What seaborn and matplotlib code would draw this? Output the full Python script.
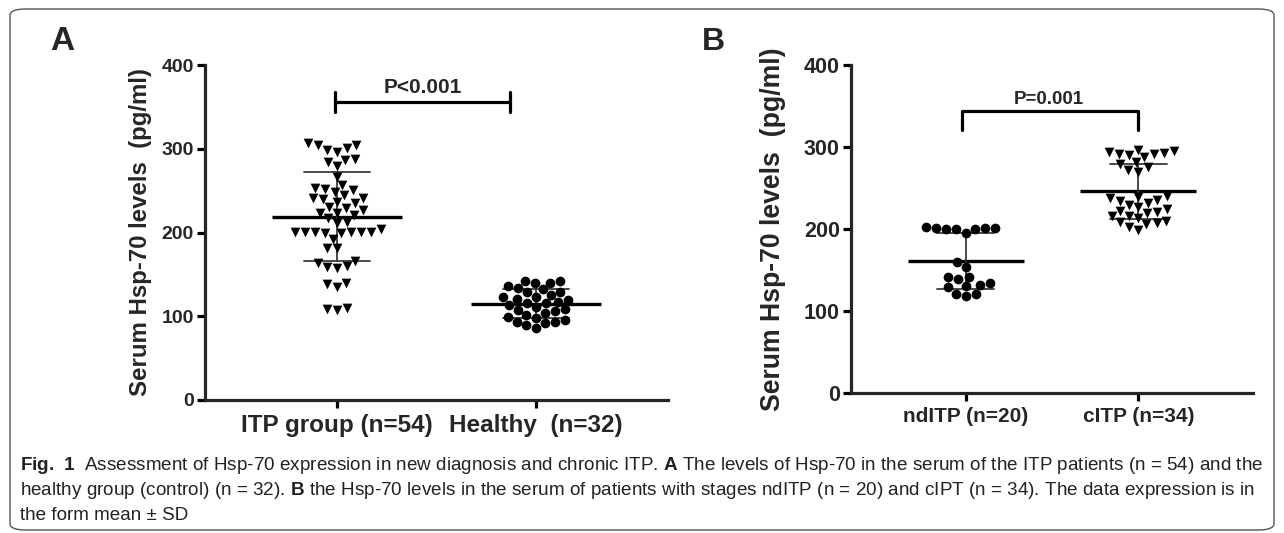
import matplotlib
matplotlib.use("Agg")
import matplotlib.pyplot as plt
import pandas as pd
import seaborn as sns
from matplotlib import font_manager
from matplotlib.patches import FancyBboxPatch

# values (pg/ml)
itp_group = [201,
             211, 199,
             304.5, 248.8, 239.6, 223, 201, 160,
             299, 287.3, 244.8, 234.9, 223.7, 201, 164, 138, 107.5,
             306.5, 296.5, 279.4, 266.7, 251.6, 240.8, 228.9, 217, 199, 181.1, 157.2, 135.3, 109.5,
             300.5, 284.6, 250.7, 240.8, 230, 221, 201, 191.8, 181.1, 159.2, 140.1, 108.7,
             304.5, 286.6, 256.7, 252.7, 236.8, 226.9, 201, 166.3,
             203.7,
             213, 201]
healthy = [128.6, 116.2,
           142.5, 129.3, 120.2, 108.3, 99.5, 89.6,
           140.1, 132.1, 123.4, 113.4, 103.5, 93.5,
           142.5, 133.3, 117.4, 107.5, 91.6,
           136.1, 122.6, 111.4, 101.5, 93.5,
           139.3, 119.4, 106.6, 97.5, 85.6,
           125.4, 115.4, 95.5]
nditp = [201, 201, 200, 195, 200, 202, 200, 201,
         160.3, 154.2, 138.8, 142, 142,
         129, 134.7, 131, 131.8, 118.5, 121, 121]
citp = [290.4, 215.7,
        296.5, 237.6, 222.5, 213.2,
        291.6, 279, 270, 234.6, 224.1, 207, 198.9,
        294.3, 281.4, 272, 239.5, 229.3, 219.2, 206.2,
        295.5, 287.4, 275.3, 240.3, 231.4, 221.2, 210.2, 202.2,
        293, 235.5, 226.6, 209,
        291.6, 215.7]

labels_a = ["ITP group (n=54)", "Healthy  (n=32)"]
labels_b = ["ndITP (n=20)", "cITP (n=34)"]
yticks = [0, 100, 200, 300, 400]
ylabel = "Serum Hsp-70 levels  (pg/ml)"

caption = [
    r"$\bf{Fig.\ 1}$  Assessment of Hsp-70 expression in new diagnosis and chronic ITP. $\bf{A}$ The levels of Hsp-70 in the serum of the ITP patients (n = 54) and the",
    r"healthy group (control) (n = 32). $\bf{B}$ the Hsp-70 levels in the serum of patients with stages ndITP (n = 20) and cIPT (n = 34). The data expression is in",
    "the form mean \u00b1 SD",
]

sns.set_style("ticks")
names = {f.name for f in font_manager.fontManager.ttflist}
cap_font = "Liberation Sans Narrow" if "Liberation Sans Narrow" in names else "Liberation Sans"
plt.rcParams['font.family'] = ['Liberation Sans', 'DejaVu Sans']
plt.rcParams['mathtext.fontset'] = 'custom'
plt.rcParams['mathtext.rm'] = cap_font
plt.rcParams['mathtext.bf'] = cap_font + ':bold'

W, H = 1284, 533
fig = plt.figure(figsize=(W / 100, H / 100), dpi=100)


def panel(rect, values, labels, markers, mean_w, tick_fs, xlab_fs, ylab_fs, labelpad):
    ax = fig.add_axes(rect)
    df = pd.DataFrame({"group": [labels[0]] * len(values[0]) + [labels[1]] * len(values[1]),
                       "value": list(values[0]) + list(values[1])})
    for lab, mk in zip(labels, markers):
        sns.swarmplot(data=df[df.group == lab], x="group", y="value", order=labels,
                      marker=mk, color="black", size=7, linewidth=0, ax=ax)
    sns.pointplot(data=df, x="group", y="value", order=labels, errorbar="sd", capsize=0.33,
                  markers="_", linestyles="none", color="black", markersize=mean_w,
                  markeredgewidth=2.4, err_kws={"linewidth": 1.3, "color": "#3a3a3a"}, ax=ax)
    ax.set_xlim(-0.663, 1.663)
    ax.set_ylim(0, 400)
    ax.set_yticks(yticks)
    sns.despine(ax=ax)
    for s in ("left", "bottom"):
        ax.spines[s].set_linewidth(2.3)
    ax.tick_params(width=2.3, length=6, color="black", pad=2)
    ax.tick_params(axis="y", labelsize=tick_fs)
    ax.tick_params(axis="x", labelsize=xlab_fs, pad=4)
    for t in ax.get_xticklabels() + ax.get_yticklabels():
        t.set_fontweight("bold")
    ax.set_xlabel("")
    ax.set_ylabel(ylabel, fontsize=ylab_fs, fontweight="bold", labelpad=labelpad)
    return ax


ax_a = panel([205 / W, 1 - 400 / H, 463 / W, 335 / H], [itp_group, healthy], labels_a,
             ["v", "o"], 94, 14, 17.5, 17.3, 7)
ax_b = panel([851 / W, 1 - 393 / H, 402 / W, 328 / H], [nditp, citp], labels_b,
             ["o", "v"], 83, 15.5, 15, 19.2, 13)

# significance brackets
ax_a.plot([-0.01, 0.87], [356, 356], color="black", lw=2.3, clip_on=False)
for xx in (-0.01, 0.87):
    ax_a.plot([xx, xx], [344, 368], color="black", lw=2.3, clip_on=False)
ax_a.text(0.43, 366, "P<0.001", ha="center", va="baseline", fontsize=15, fontweight="bold")

ax_b.plot([-0.02, -0.02, 1.0, 1.0], [321, 344, 344, 321], color="black", lw=2.3, clip_on=False)
ax_b.text(0.48, 353, "P=0.001", ha="center", va="baseline", fontsize=13.5, fontweight="bold")

fig.text(62 / W, 1 - 42 / H, "A", ha="center", va="center", fontsize=24, fontweight="bold")
fig.text(713 / W, 1 - 42 / H, "B", ha="center", va="center", fontsize=23, fontweight="bold")

# caption
for i, line in enumerate(caption):
    fig.text(20 / W, 1 - (466 + 24.5 * i) / H, line, ha="left", va="center",
             fontsize=13.6, family=cap_font, color="#222222")

# rounded frame around the figure
frame = FancyBboxPatch((10 / W, 3 / H), 1264 / W, 521 / H, boxstyle="round,pad=0,rounding_size=0.012",
                       transform=fig.transFigure, facecolor="none", edgecolor="#555555", lw=1.0)
fig.patches.append(frame)

fig.savefig("out.png", dpi=100)
